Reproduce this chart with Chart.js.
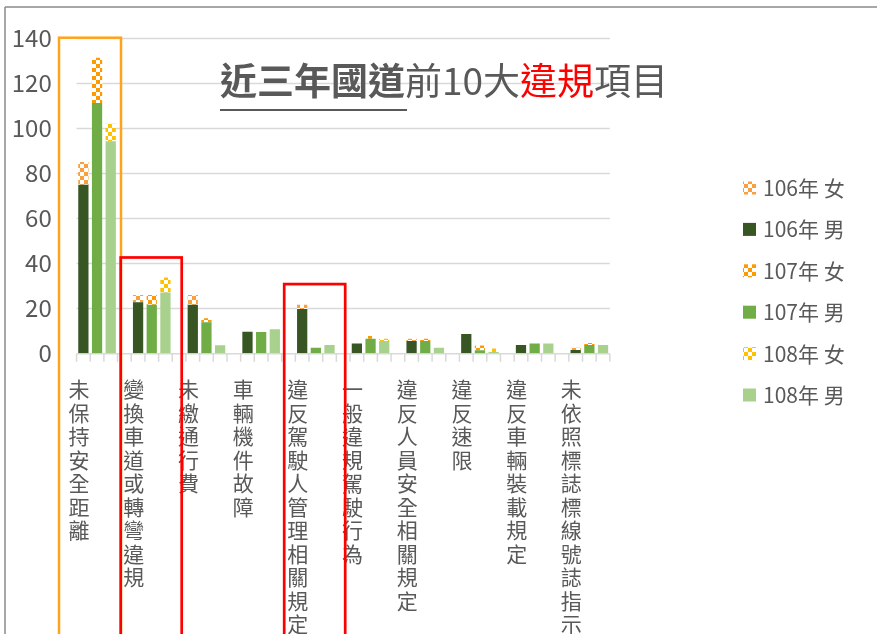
<!DOCTYPE html>
<html>
<head>
<meta charset="utf-8">
<script src="https://cdn.jsdelivr.net/npm/chart.js@4/dist/chart.umd.min.js"></script>
<style>
  body { margin: 0; background: #fff; }
  #wrap { width: 877px; height: 634px; position: relative; }
</style>
</head>
<body>
<div id="wrap"><canvas id="chart-bar"></canvas></div>
<script>
const categories = [
  "未保持安全距離", "變換車道或轉彎違規", "未繳通行費", "車輛機件故障",
  "違反駕駛人管理相關規定", "一般違規駕駛行為", "違反人員安全相關規定",
  "違反速限", "違反車輛裝載規定", "未依照標誌標線號誌指示"
];
const male106   = [74.8, 22.7, 21.5, 9.6, 19.6, 4.4, 5.5, 8.6, 3.7, 1.5];
const female106 = [10.1, 3.2, 4.4, 0, 1.9, 0, 1, 0, 0, 1];
const male107   = [111, 21.5, 13.8, 9.5, 2.5, 6.4, 5.5, 1.3, 4.4, 3.7];
const female107 = [20.1, 4.4, 1.8, 0, 0, 1.3, 1, 2.2, 0, 0.9];
const male108   = [94.1, 27, 3.6, 10.7, 3.7, 5.5, 2.5, 0.6, 4.4, 3.7];
const female108 = [7.7, 6.6, 0, 0, 0, 1, 0, 1.5, 0, 0];
const yTicks = [0, 20, 40, 60, 80, 100, 120, 140];

const textColor = "#595959";
const font = "'Noto Sans CJK TC', 'Noto Sans', sans-serif";
const canvas = document.getElementById("chart-bar");
const ctx0 = canvas.getContext("2d");

function checker(color) {
  const c = document.createElement("canvas");
  c.width = 8; c.height = 8;
  const g = c.getContext("2d");
  g.fillStyle = "#fff"; g.fillRect(0, 0, 8, 8);
  g.fillStyle = color;
  g.fillRect(0, 0, 4, 4); g.fillRect(4, 4, 4, 4);
  return ctx0.createPattern(c, "repeat");
}

function line(ctx, x1, y1, x2, y2) {
  ctx.beginPath(); ctx.moveTo(x1, y1); ctx.lineTo(x2, y2); ctx.stroke();
}

const excelLook = {
  id: "excelLook",
  beforeDraw(chart) {
    const ctx = chart.ctx;
    ctx.save();
    ctx.strokeStyle = "#8a8a8a"; ctx.lineWidth = 1.5;
    line(ctx, 5, 7, chart.width, 7);
    line(ctx, 5, 7, 5, chart.height);
    ctx.restore();
  },
  beforeDatasetsDraw(chart) {
    const { ctx, scales: { x, y } } = chart;
    const slot = (x.getPixelForValue(1) - x.getPixelForValue(0)) / 4;
    const left = x.left + slot / 2, right = x.right - slot / 2;
    ctx.save();
    ctx.strokeStyle = "#d9d9d9"; ctx.lineWidth = 1.5;
    y.ticks.forEach(t => {
      if (t.value === 0) return;
      const py = Math.round(y.getPixelForValue(t.value)) + 0.5;
      line(ctx, left, py, right, py);
    });
    const base = y.getPixelForValue(0) + 0.5;
    line(ctx, left, base, right, base);
    const n = Math.round((right - left) / slot);
    for (let k = 0; k <= n; k++) {
      const px = left + k * slot;
      line(ctx, px, base, px, base + 8);
    }
    ctx.restore();
  },
  afterDatasetsDraw(chart) {
    const { ctx, scales: { x, y } } = chart;
    const cw = x.getPixelForValue(1) - x.getPixelForValue(0);
    const boxes = [
      { index: 0, top: 140, dx: -10.7, w: 62, color: "#FFA31A", lw: 2.5 },
      { index: 1, top: 42.5, dx: -3.7, w: 61, color: "#FF0000", lw: 2.7 },
      { index: 4, top: 30.7, dx: -4.3, w: 61, color: "#FF0000", lw: 2.7 }
    ];
    ctx.save();
    boxes.forEach(b => {
      const catLeft = x.getPixelForValue(b.index) - cw / 2;
      const top = y.getPixelForValue(b.top);
      ctx.strokeStyle = b.color; ctx.lineWidth = b.lw;
      ctx.strokeRect(catLeft + b.dx, top, b.w, chart.height + 20 - top);
    });
    ctx.restore();
  },
  afterDraw(chart) {
    const ctx = chart.ctx;
    ctx.save();
    // title
    const parts = [
      { text: "近三年國道", bold: true, color: textColor },
      { text: "前10大", color: textColor },
      { text: "違規", color: "#FF0000" },
      { text: "項目", color: textColor }
    ];
    let tx = 220;
    const ty = 81;
    ctx.textBaseline = "middle";
    ctx.textAlign = "left";
    parts.forEach(p => {
      ctx.font = (p.bold ? "bold " : "") + "37px " + font;
      ctx.fillStyle = p.color;
      ctx.fillText(p.text, tx, ty);
      const w = ctx.measureText(p.text).width;
      if (p.bold) {
        ctx.fillStyle = textColor;
        ctx.fillRect(tx, 109, w + 2, 2);
      }
      tx += w;
    });
    // legend
    const order = [1, 0, 3, 2, 5, 4];
    ctx.font = "21px " + font;
    order.forEach((di, i) => {
      const ds = chart.data.datasets[di];
      const cy = 188 + i * 41.4;
      ctx.fillStyle = ds.backgroundColor;
      ctx.fillRect(743, cy - 6.5, 13, 13);
      ctx.fillStyle = textColor;
      ctx.fillText(ds.label, 763, cy);
    });
    ctx.restore();
  }
};

new Chart(canvas, {
  type: "bar",
  data: {
    labels: categories.map(c => Array.from(c)),
    datasets: [
      { label: "106年 男", data: male106, stack: "106", backgroundColor: "#375623" },
      { label: "106年 女", data: female106, stack: "106", backgroundColor: checker("#F99F3C") },
      { label: "107年 男", data: male107, stack: "107", backgroundColor: "#70AD47" },
      { label: "107年 女", data: female107, stack: "107", backgroundColor: checker("#FF9900") },
      { label: "108年 男", data: male108, stack: "108", backgroundColor: "#A9D18E" },
      { label: "108年 女", data: female108, stack: "108", backgroundColor: checker("#FFC000") }
    ]
  },
  options: {
    responsive: true,
    maintainAspectRatio: false,
    animation: false,
    layout: { padding: { top: 37.7, right: 260.3, bottom: 0, left: 0 } },
    datasets: { bar: { categoryPercentage: 0.75, barPercentage: 0.75 } },
    plugins: {
      legend: { display: false },
      title: { display: false },
      tooltip: { enabled: false }
    },
    scales: {
      x: {
        stacked: true,
        border: { display: false },
        grid: { display: false, drawTicks: false },
        afterFit: (scale) => { scale.height = 280.7; },
        ticks: {
          autoSkip: false,
          maxRotation: 0,
          minRotation: 0,
          padding: 24,
          labelOffset: -18,
          color: textColor,
          font: { family: font, size: 21, lineHeight: 1.12 }
        }
      },
      y: {
        stacked: true,
        min: 0,
        max: 140,
        border: { display: false },
        grid: { display: false, drawTicks: false },
        afterFit: (scale) => { scale.width = 69.7; },
        afterBuildTicks: (scale) => { scale.ticks = yTicks.map(v => ({ value: v })); },
        ticks: {
          padding: 18,
          color: textColor,
          font: { family: font, size: 24 }
        }
      }
    }
  },
  plugins: [excelLook]
});
</script>
</body>
</html>
